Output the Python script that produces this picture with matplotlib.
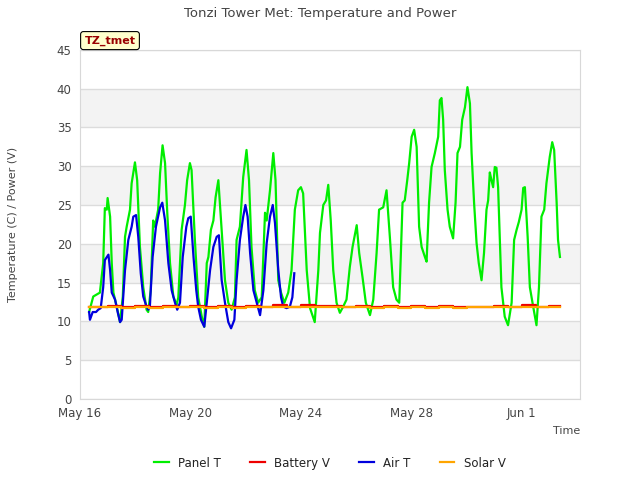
import numpy as np
import pandas as pd
import matplotlib
matplotlib.use("Agg")
import matplotlib.pyplot as plt
import matplotlib.dates as mdates

start = pd.Timestamp("2021-05-16")

# Panel T: (day offset from May 16, deg C)
panel_days = [0.33, 0.48, 0.72, 0.84, 0.90, 0.97, 1.00, 1.09, 1.15, 1.21, 1.33, 1.45,
              1.55, 1.63, 1.69, 1.81, 1.87, 1.99, 2.07, 2.17, 2.29, 2.41, 2.47, 2.56,
              2.65, 2.71, 2.83, 2.90, 2.99, 3.08, 3.16, 3.26, 3.38, 3.50, 3.56, 3.68,
              3.80, 3.88, 3.98, 4.04, 4.16, 4.28, 4.41, 4.50, 4.59, 4.65, 4.74, 4.83,
              4.91, 5.01, 5.13, 5.25, 5.37, 5.49, 5.61, 5.67, 5.79, 5.91, 6.03, 6.12,
              6.21, 6.33, 6.45, 6.58, 6.70, 6.76, 6.88, 7.00, 7.08, 7.18, 7.28, 7.40,
              7.54, 7.66, 7.78, 7.90, 8.00, 8.08, 8.21, 8.33, 8.50, 8.63, 8.69, 8.81,
              8.91, 8.99, 9.08, 9.17, 9.29, 9.41, 9.53, 9.65, 9.77, 9.87, 10.02, 10.11,
              10.23, 10.35, 10.50, 10.62, 10.74, 10.83, 10.98, 11.10, 11.22, 11.34, 11.46,
              11.56, 11.68, 11.76, 11.85, 11.92, 12.01, 12.10, 12.19, 12.28, 12.37, 12.49,
              12.55, 12.64, 12.73, 12.85, 12.97, 13.03, 13.09, 13.15, 13.21, 13.31, 13.39,
              13.51, 13.60, 13.67, 13.76, 13.84, 13.94, 14.03, 14.12, 14.18, 14.27, 14.36,
              14.44, 14.54, 14.63, 14.72, 14.78, 14.84, 14.90, 14.96, 15.02, 15.08, 15.14,
              15.20, 15.26, 15.38, 15.50, 15.63, 15.72, 15.81, 15.89, 15.99, 16.05, 16.11,
              16.21, 16.29, 16.41, 16.53, 16.62, 16.71, 16.81, 16.89, 17.01, 17.10, 17.17,
              17.26, 17.31, 17.38]
panel_t = [11.2, 13.2, 13.7, 17.5, 24.6, 24.4, 25.9, 23.5, 17.5, 13.7, 11.9, 9.9,
           13.2, 20.9, 22.2, 24.4, 27.8, 30.5, 28.2, 19.6, 14.4, 11.5, 11.2, 14.0,
           23.0, 22.2, 24.4, 29.1, 32.7, 30.4, 24.0, 17.5, 13.2, 12.1, 13.1, 21.8,
           25.0, 28.2, 30.4, 29.5, 20.5, 13.1, 10.6, 9.3, 17.5, 18.3, 21.8, 23.0,
           26.0, 28.2, 21.8, 15.3, 12.4, 11.5, 13.1, 20.5, 22.2, 28.6, 32.1, 28.2,
           19.6, 14.0, 12.4, 13.1, 24.0, 23.0, 26.9, 31.7, 28.2, 15.3, 13.7, 12.4,
           13.7, 16.6, 24.4, 26.9, 27.3, 26.5, 16.6, 11.7, 9.9, 16.6, 21.4, 25.0,
           25.6, 27.6, 23.0, 16.6, 12.4, 11.1, 11.9, 12.8, 17.0, 19.6, 22.4, 18.8,
           15.7, 12.4, 10.8, 12.8, 18.8, 24.4, 24.7, 26.9, 20.9, 14.4, 12.8,
           12.4, 25.3, 25.6, 28.2, 30.4, 33.8, 34.7, 32.5, 22.2, 19.6, 18.3,
           17.7, 25.3, 29.9, 31.7, 33.8, 38.5, 38.8, 36.0, 29.5, 24.4, 22.2,
           20.7, 25.3, 31.7, 32.5, 36.0, 37.6, 40.2, 38.1, 31.7, 25.3, 20.1,
           17.5, 15.3, 18.8, 24.4, 25.6, 29.2, 28.2, 27.3, 29.9, 29.8, 27.3,
           20.9, 14.4, 10.6, 9.5, 12.4, 20.5, 21.8, 22.8, 24.4, 27.2, 27.3,
           20.9, 14.4, 11.9, 9.5, 14.4, 23.5, 24.4, 27.8, 31.2, 33.1, 32.1,
           25.3, 20.5, 18.3]

# Air T
air_days = [0.33, 0.36, 0.46, 0.58, 0.66, 0.75, 0.84, 0.90, 1.03, 1.09, 1.15, 1.27,
            1.37, 1.45, 1.51, 1.63, 1.75, 1.87, 1.93, 2.03, 2.11, 2.20, 2.29, 2.41,
            2.47, 2.53, 2.63, 2.75, 2.90, 2.98, 3.08, 3.20, 3.32, 3.44, 3.52, 3.62,
            3.72, 3.85, 3.92, 4.01, 4.11, 4.21, 4.28, 4.38, 4.50, 4.59, 4.71, 4.83,
            4.95, 5.03, 5.13, 5.25, 5.37, 5.47, 5.59, 5.67, 5.79, 5.91, 5.99, 6.07,
            6.16, 6.28, 6.40, 6.52, 6.64, 6.76, 6.88, 6.98, 7.06, 7.18, 7.28, 7.36,
            7.48, 7.60, 7.69, 7.76]
air_t = [11.2, 10.2, 11.2, 11.2, 11.5, 11.7, 14.4, 17.9, 18.6, 16.6, 13.7, 12.8,
         11.1, 9.9, 10.2, 16.6, 20.5, 22.2, 23.5, 23.7, 20.9, 16.2, 13.2, 11.9,
         11.5, 11.9, 18.3, 22.2, 24.7, 25.3, 23.0, 17.5, 14.0, 12.4, 11.5, 12.4,
         18.3, 22.2, 23.3, 23.5, 18.3, 14.0, 11.9, 10.2, 9.3, 12.4, 16.6, 19.6,
         20.9, 21.1, 15.3, 12.4, 9.9, 9.1, 10.2, 15.3, 20.5, 23.5, 25.0, 23.5,
         18.8, 14.0, 12.4, 10.8, 14.0, 20.1, 23.5, 25.0, 22.7, 16.6, 13.1, 11.9,
         11.7, 11.9, 13.1, 16.2]

# Battery V and Solar V
batt_days = [0.33, 1.0, 1.5, 2.0, 2.5, 3.0, 3.5, 4.0, 4.5, 5.0, 5.5, 6.0, 6.5, 7.0,
             7.5, 8.0, 8.5, 9.0, 9.5, 10.0, 10.5, 11.0, 11.5, 12.0, 12.5, 13.0, 13.5,
             14.0, 14.5, 15.0, 15.5, 16.0, 16.5, 17.0, 17.38]
batt_v = [11.9, 12.0, 11.9, 12.0, 11.9, 12.0, 11.9, 12.0, 11.9, 12.0, 11.9, 12.0, 11.9,
          12.1, 11.9, 12.1, 12.0, 12.0, 11.9, 12.0, 11.9, 12.0, 11.9, 12.0, 11.9, 12.0,
          11.9, 11.9, 11.9, 12.0, 11.9, 12.1, 11.9, 12.0, 12.0]
solar_v = [11.9, 11.8, 11.7, 11.8, 11.7, 11.8, 11.8, 11.8, 11.7, 11.8, 11.7, 11.8, 11.8,
           11.8, 11.8, 11.8, 11.8, 11.8, 11.8, 11.8, 11.7, 11.8, 11.7, 11.8, 11.7, 11.8,
           11.7, 11.8, 11.8, 11.8, 11.8, 11.8, 11.8, 11.8, 11.8]


def to_time(days):
    return start + pd.to_timedelta(np.array(days), unit="D")


def main():
    fig = plt.figure(figsize=(6.4, 4.8), dpi=100)
    ax = fig.add_axes([0.125, 0.169, 0.781, 0.727])

    # alternating bands
    for lo in range(5, 45, 10):
        ax.axhspan(lo, lo + 5, color="#f3f3f3", zorder=0, lw=0)
    ax.grid(axis="y", color="#dcdcdc", lw=1, zorder=1)
    ax.set_axisbelow(True)

    ax.plot(to_time(panel_days), panel_t, color="#00ee00", lw=1.6, label="Panel T", zorder=3)
    ax.plot(to_time(batt_days), batt_v, color="#ee0000", lw=1.6, label="Battery V",
            drawstyle="steps-post", zorder=4)
    ax.plot(to_time(air_days), air_t, color="#0000dd", lw=1.6, label="Air T", zorder=3)
    ax.plot(to_time(batt_days), solar_v, color="#ffa500", lw=1.6, label="Solar V",
            drawstyle="steps-post", zorder=5)

    ax.set_ylim(0, 45)
    ax.set_yticks(range(0, 46, 5))
    ax.set_xlim(start, start + pd.Timedelta(days=18.1))
    ticks = [start + pd.Timedelta(days=d) for d in (0, 4, 8, 12, 16)]
    ax.set_xticks(ticks)
    ax.xaxis.set_major_formatter(mdates.DateFormatter("%b %-d"))
    ax.tick_params(length=0, labelsize=8.5, colors="#444444", pad=6)

    for s in ax.spines.values():
        s.set_color("#d8d8d8")

    fig.suptitle("Tonzi Tower Met: Temperature and Power", y=0.985, fontsize=9.5, color="#444444")
    ax.set_ylabel("Temperature (C) / Power (V)", fontsize=8, color="#444444", labelpad=28)
    ax.set_xlabel("Time", fontsize=8, color="#444444", loc="right", labelpad=4)

    ax.text(0.009, 1.012, "TZ_tmet", transform=ax.transAxes, fontsize=8, fontweight="bold",
            color="#990000", va="bottom", ha="left",
            bbox=dict(boxstyle="round,pad=0.35,rounding_size=0.25", fc="#ffffcc", ec="black", lw=0.8))

    ax.legend(loc="upper center", bbox_to_anchor=(0.5, -0.135), ncol=4, frameon=False,
              fontsize=8.5, handlelength=1.2, columnspacing=2.5, labelcolor="#222222")

    fig.savefig("out.png", dpi=100)


if __name__ == "__main__":
    main()
